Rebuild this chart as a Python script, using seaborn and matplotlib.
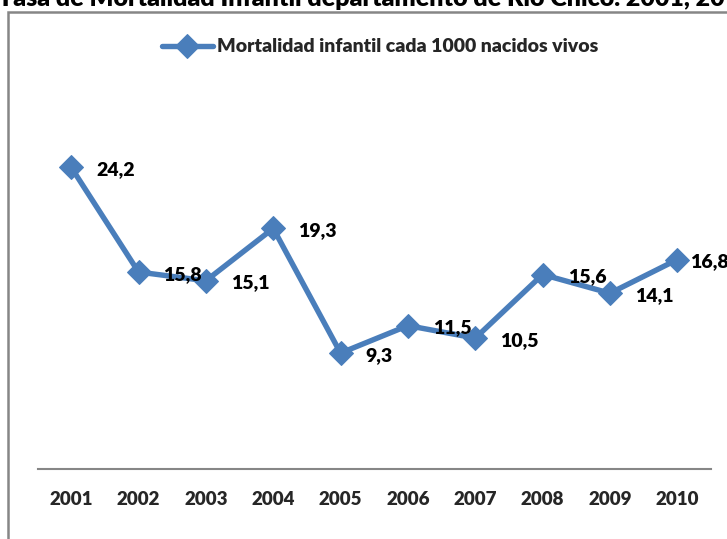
import matplotlib
matplotlib.use("Agg")
import matplotlib.pyplot as plt
import seaborn as sns
import pandas as pd
from matplotlib.patches import Rectangle

years = ["2001", "2002", "2003", "2004", "2005", "2006", "2007", "2008", "2009", "2010"]
values = [24.2, 15.8, 15.1, 19.3, 9.3, 11.5, 10.5, 15.6, 14.1, 16.8]
value_labels = ["24,2", "15,8", "15,1", "19,3", "9,3", "11,5", "10,5", "15,6", "14,1", "16,8"]
series_name = "Mortalidad infantil cada 1000 nacidos vivos"
title = "Tasa de Mortalidad Infantil departamento de Río Chico. 2001, 2010"

sns.set_style("white")
plt.rcParams["font.family"] = ["Lato", "DejaVu Sans"]
plt.rcParams["font.weight"] = "heavy"

W, H = 727, 539
fig = plt.figure(figsize=(W / 100, H / 100), dpi=100)
ax = fig.add_axes([37.5 / W, 1 - 469 / H, (711 - 37.5) / W, (469 - 95) / H])

df = pd.DataFrame({"year": years, "value": values})
color = "#4A7EBB"
sns.lineplot(data=df, x="year", y="value", ax=ax, color=color, linewidth=3.9,
             marker="D", markersize=12, markeredgecolor=color, label=series_name)

ax.set_xlim(-0.5, len(years) - 0.5)
ax.set_ylim(0, 30)
ax.set_xlabel("")
ax.set_ylabel("")
ax.set_yticks([])
for s in ["left", "right", "top"]:
    ax.spines[s].set_visible(False)
ax.spines["bottom"].set_color("#868686")
ax.spines["bottom"].set_linewidth(1.5)
ax.tick_params(axis="x", length=0, pad=16, labelsize=13.5)
for t in ax.get_xticklabels():
    t.set_fontweight("heavy")

n = len(values)
for i, (v, lab) in enumerate(zip(values, value_labels)):
    dx = 9 if i == n - 1 else 18  # last label nudged inward, as in the reference
    ax.annotate(lab, (i, v), xytext=(dx, -1.5), textcoords="offset points",
                ha="left", va="center", fontsize=14, fontweight="heavy",
                color="black", annotation_clip=False)

leg = ax.legend(loc="center", bbox_to_anchor=(380 / W, 1 - 47 / H),
                bbox_transform=fig.transFigure, frameon=False,
                fontsize=14, handlelength=2.6, handletextpad=0.2)
for t in leg.get_texts():
    t.set_fontweight("heavy")

fig.text(-2 / W, 1 - 6.5 / H, title, ha="left", va="baseline",
         fontsize=18, fontweight="heavy", color="black")

fig.patches.append(Rectangle((8 / W, -0.1), 2, 1 - 12 / H + 0.1,
                             transform=fig.transFigure, fill=False,
                             edgecolor="#868686", linewidth=1.8))

fig.savefig("out.png", dpi=100)
